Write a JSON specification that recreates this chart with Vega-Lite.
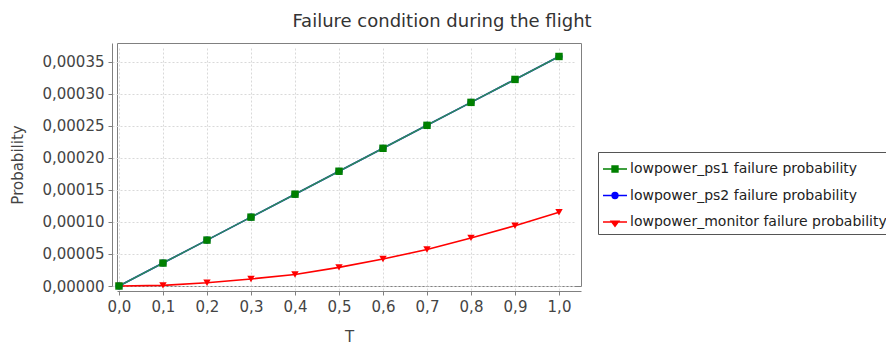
{
  "$schema": "https://vega.github.io/schema/vega-lite/v6.json",
  "width": 464,
  "height": 243,
  "autosize": {"type": "none"},
  "padding": {"left": 117, "top": 43, "right": 305, "bottom": 58},
  "background": "white",
  "title": {"text": "Failure condition during the flight", "anchor": "middle", "dx": 93, "dy": 21, "offset": 19, "baseline": "alphabetic", "fontSize": 18, "font": "DejaVu Sans", "fontWeight": "normal", "color": "#333333"},
  "data": {"values": [
    {"t": 0.0, "p": 0.0, "series": "lowpower_monitor failure probability"},
    {"t": 0.1, "p": 0.000001, "series": "lowpower_monitor failure probability"},
    {"t": 0.2, "p": 0.000005, "series": "lowpower_monitor failure probability"},
    {"t": 0.3, "p": 0.000011, "series": "lowpower_monitor failure probability"},
    {"t": 0.4, "p": 0.000018, "series": "lowpower_monitor failure probability"},
    {"t": 0.5, "p": 0.000029, "series": "lowpower_monitor failure probability"},
    {"t": 0.6, "p": 0.000042, "series": "lowpower_monitor failure probability"},
    {"t": 0.7, "p": 0.000057, "series": "lowpower_monitor failure probability"},
    {"t": 0.8, "p": 0.000075, "series": "lowpower_monitor failure probability"},
    {"t": 0.9, "p": 0.000094, "series": "lowpower_monitor failure probability"},
    {"t": 1.0, "p": 0.000115, "series": "lowpower_monitor failure probability"},
    {"t": 0.0, "p": 0.0, "series": "lowpower_ps2 failure probability"},
    {"t": 0.1, "p": 0.0000358, "series": "lowpower_ps2 failure probability"},
    {"t": 0.2, "p": 0.0000716, "series": "lowpower_ps2 failure probability"},
    {"t": 0.3, "p": 0.0001074, "series": "lowpower_ps2 failure probability"},
    {"t": 0.4, "p": 0.0001432, "series": "lowpower_ps2 failure probability"},
    {"t": 0.5, "p": 0.000179, "series": "lowpower_ps2 failure probability"},
    {"t": 0.6, "p": 0.0002148, "series": "lowpower_ps2 failure probability"},
    {"t": 0.7, "p": 0.0002506, "series": "lowpower_ps2 failure probability"},
    {"t": 0.8, "p": 0.0002864, "series": "lowpower_ps2 failure probability"},
    {"t": 0.9, "p": 0.0003222, "series": "lowpower_ps2 failure probability"},
    {"t": 1.0, "p": 0.000358, "series": "lowpower_ps2 failure probability"},
    {"t": 0.0, "p": 0.0, "series": "lowpower_ps1 failure probability"},
    {"t": 0.1, "p": 0.0000358, "series": "lowpower_ps1 failure probability"},
    {"t": 0.2, "p": 0.0000716, "series": "lowpower_ps1 failure probability"},
    {"t": 0.3, "p": 0.0001074, "series": "lowpower_ps1 failure probability"},
    {"t": 0.4, "p": 0.0001432, "series": "lowpower_ps1 failure probability"},
    {"t": 0.5, "p": 0.000179, "series": "lowpower_ps1 failure probability"},
    {"t": 0.6, "p": 0.0002148, "series": "lowpower_ps1 failure probability"},
    {"t": 0.7, "p": 0.0002506, "series": "lowpower_ps1 failure probability"},
    {"t": 0.8, "p": 0.0002864, "series": "lowpower_ps1 failure probability"},
    {"t": 0.9, "p": 0.0003222, "series": "lowpower_ps1 failure probability"},
    {"t": 1.0, "p": 0.000358, "series": "lowpower_ps1 failure probability"}
  ]},
  "config": {
    "locale": {"number": {"decimal": ",", "thousands": ".", "grouping": [3], "currency": ["", "€"]}},
    "view": {"stroke": "#808080", "strokeWidth": 1},
    "axis": {
      "domainColor": "#808080", "tickColor": "#808080", "tickSize": 4, "offset": 5,
      "labelFont": "DejaVu Sans", "labelFontSize": 15, "labelColor": "#444444", "labelPadding": 4,
      "titleFont": "DejaVu Sans", "titleFontSize": 15, "titleFontWeight": "normal", "titleColor": "#444444",
      "grid": true, "gridColor": "#d9d9d9", "gridDash": [2, 2]
    }
  },
  "encoding": {
    "x": {"field": "t", "type": "quantitative", "scale": {"domain": [-0.0045, 1.05], "nice": false, "zero": false},
      "axis": {"values": [0, 0.1, 0.2, 0.3, 0.4, 0.5, 0.6, 0.7, 0.8, 0.9, 1.0], "format": ".1f", "title": "T", "titlePadding": 15}},
    "y": {"field": "p", "type": "quantitative", "scale": {"domain": [0, 0.000379], "nice": false},
      "axis": {"values": [0, 0.00005, 0.0001, 0.00015, 0.0002, 0.00025, 0.0003, 0.00035], "format": ".5f", "title": "Probability", "titlePadding": 16}}
  },
  "layer": [
    {
      "transform": [{"filter": "datum.series == 'lowpower_monitor failure probability'"}],
      "mark": {"type": "line", "strokeWidth": 1.6, "color": "#ff0000", "point": {"filled": true, "size": 55, "shape": "triangle-down", "color": "#ff0000"}}
    },
    {
      "transform": [{"filter": "datum.series == 'lowpower_ps2 failure probability'"}],
      "mark": {"type": "line", "strokeWidth": 1.6, "color": "#0000ff", "point": {"filled": true, "size": 50, "shape": "circle", "color": "#0000ff"}}
    },
    {
      "transform": [{"filter": "datum.series == 'lowpower_ps1 failure probability'"}],
      "mark": {"type": "line", "strokeWidth": 1.6, "color": "#2e8b57", "point": {"filled": true, "size": 55, "shape": "square", "color": "#008000"}}
    },
    {
      "mark": {"type": "point", "filled": true, "opacity": 0},
      "encoding": {
        "color": {"field": "series", "type": "nominal",
          "scale": {"domain": ["lowpower_ps1 failure probability", "lowpower_ps2 failure probability", "lowpower_monitor failure probability"], "range": ["#008000", "#0000ff", "#ff0000"]},
          "legend": {"title": null, "orient": "none", "legendX": 481, "legendY": 109, "strokeColor": "#555555", "padding": 4, "symbolSize": 576, "symbolOpacity": 1, "symbolStrokeWidth": 1.6, "labelFont": "DejaVu Sans", "labelFontSize": 14, "labelColor": "#222222", "rowPadding": 6.5, "labelOffset": 2, "labelLimit": 400,
            "encode": {"symbols": {"update": {"stroke": {"scale": "color", "field": "value"}, "fill": {"scale": "color", "field": "value"}, "strokeWidth": {"value": 1.6}, "opacity": {"value": 1}}}}}},
        "shape": {"field": "series", "type": "nominal",
          "scale": {"domain": ["lowpower_ps1 failure probability", "lowpower_ps2 failure probability", "lowpower_monitor failure probability"],
            "range": ["M-1,0H1M-0.24,-0.24H0.24V0.24H-0.24Z", "M-1,0H1M0.24,0A0.24,0.24 0 1,1 -0.24,0A0.24,0.24 0 1,1 0.24,0Z", "M-1,0H1M-0.3,-0.06H0.3L0,0.34Z"]},
          "legend": {"title": null, "orient": "none", "legendX": 481, "legendY": 109, "strokeColor": "#555555", "padding": 4, "symbolSize": 576, "symbolOpacity": 1, "symbolStrokeWidth": 1.6, "labelFont": "DejaVu Sans", "labelFontSize": 14, "labelColor": "#222222", "rowPadding": 6.5, "labelOffset": 2, "labelLimit": 400,
            "encode": {"symbols": {"update": {"stroke": {"scale": "color", "field": "value"}, "fill": {"scale": "color", "field": "value"}, "strokeWidth": {"value": 1.6}, "opacity": {"value": 1}}}}}}
      }
    }
  ]
}
